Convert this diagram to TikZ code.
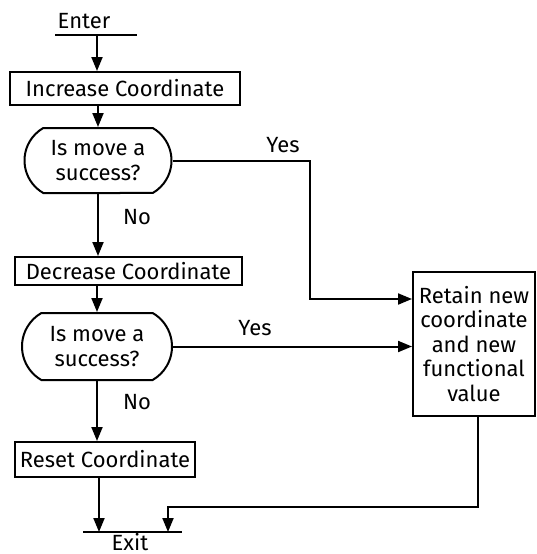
\documentclass[tikz,border=0pt]{standalone}
\usepackage{fontspec}
\setmainfont{Fira Sans}
\usetikzlibrary{arrows.meta,shapes.misc}

\begin{document}
\begin{tikzpicture}[x=1pt,y=-1pt,
		line width=2pt,
		txt/.style={font=\fontsize{22}{24.5}\selectfont, inner sep=0pt},
		box/.style={txt, draw, rectangle, minimum height=30pt},
		ask/.style={txt, draw, rounded rectangle, rounded rectangle arc length=120, align=center},
		arr/.style={-{Triangle[length=14pt,width=11pt]}}]
		\useasboundingbox (0,0) rectangle (537,554);
		% boxes of the left column
		\node[txt] (enter) at (84,21) {Enter};
		\coordinate (enterL) at (55,35);
		\coordinate (enterR) at (137,35);
		\coordinate (enterA) at (97,35);
		\node[box, minimum width=230pt, minimum height=33pt] (inc) at (125,88.5) {Increase Coordinate};
		\node[ask, minimum width=147pt, minimum height=65pt] (ask1) at (98,160.5) {Is move a\\success?};
		\node[box, minimum width=227pt, minimum height=28pt] (dec) at (128.5,271) {Decrease Coordinate};
		\node[ask, minimum width=150pt, minimum height=67pt] (ask2) at (97,346.5) {Is move a\\success?};
		\node[box, minimum width=180pt, minimum height=35pt] (reset) at (105,459.5) {Reset Coordinate};
		\coordinate (exitL) at (83,532);
		\coordinate (exitR) at (182,532);
		\node[txt] (exit) at (130,542) {Exit};
		% box on the right
		\node[txt, draw, align=center, minimum width=122pt, minimum height=144pt] (retain) at (474,344) {Retain new\\coordinate\\and new\\functional\\value};
		% labels
		\node[txt] (yes1) at (283,145) {Yes};
		\node[txt] (no1) at (137,217) {No};
		\node[txt] (yes2) at (255,328) {Yes};
		\node[txt] (no2) at (137,402) {No};
		\coordinate (bend1) at (310,299);
		\coordinate (bend2) at (168,507);
		% connectors
		\draw (enterL) -- (enterR);
		\draw (exitL) -- (exitR);
		\draw[arr] (enterA) -- (enterA |- inc.north);
		\draw[arr] (ask1.north |- inc.south) -- (ask1.north);
		\draw[arr] (ask1.south) -- (ask1.south |- dec.north);
		\draw[arr] (ask2.north |- dec.south) -- (ask2.north);
		\draw[arr] (ask2.south) -- (ask2.south |- reset.north);
		\draw[arr] ([xshift=2pt]reset.south west -| ask2.south) -- ([xshift=2pt]exitL -| ask2.south);
		\draw[arr] (ask1.east) -| (bend1) -- (bend1 -| retain.west);
		\draw[arr] (ask2.east) -- (ask2.east -| retain.west);
		\draw[arr] ([xshift=4pt]retain.south) |- (bend2) -- (bend2 |- exitL);
	\end{tikzpicture}
\end{document}
